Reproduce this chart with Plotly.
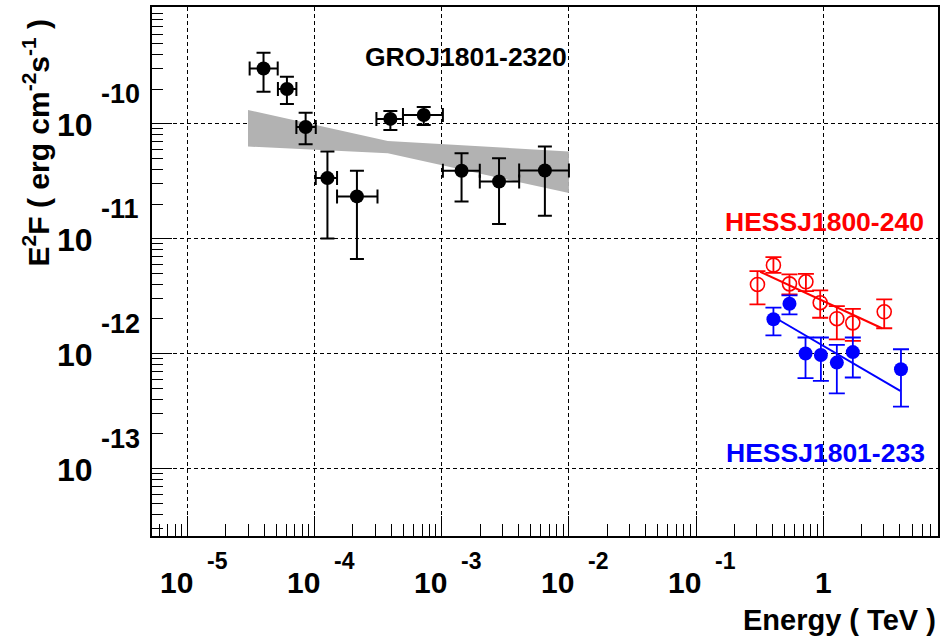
import numpy as np
import plotly.graph_objects as go

# ---- GRO J1801-2320 (EGRET) spectral points, energies in TeV, E^2F in erg cm^-2 s^-1
gro_e = [3.96e-5, 6.05e-5, 8.49e-5, 1.26e-4, 2.15e-4, 3.94e-4, 7.21e-4, 1.43e-3, 2.82e-3, 6.47e-3]
gro_e_lo = [3.08e-5, 5.14e-5, 7.18e-5, 1.02e-4, 1.50e-4, 3.06e-4, 4.95e-4, 1.02e-3, 1.99e-3, 4.06e-3]
gro_e_hi = [5.12e-5, 7.18e-5, 1.02e-4, 1.50e-4, 3.12e-4, 4.95e-4, 1.02e-3, 1.99e-3, 4.06e-3, 1.0e-2]
gro_f = [3.02e-10, 2.0e-10, 9.36e-11, 3.36e-11, 2.33e-11, 1.10e-10, 1.19e-10, 3.89e-11, 3.14e-11, 3.91e-11]
gro_f_hi = [4.15e-10, 2.56e-10, 1.245e-10, 5.72e-11, 3.89e-11, 1.29e-10, 1.40e-10, 5.52e-11, 5.0e-11, 6.32e-11]
gro_f_lo = [1.90e-10, 1.48e-10, 6.61e-11, 1.0e-11, 6.65e-12, 8.82e-11, 9.75e-11, 2.10e-11, 1.34e-11, 1.58e-11]

# butterfly of the GRO power-law fit
band_e = [2.99e-5, 3.76e-4, 1.0e-2]
band_hi = [1.315e-10, 7.08e-11, 5.72e-11]
band_lo = [6.32e-11, 5.52e-11, 2.49e-11]

# ---- HESS J1800-240 (open red)
red_e = [0.304, 0.406, 0.543, 0.731, 0.947, 1.28, 1.71, 3.02]
red_f = [3.99e-12, 5.88e-12, 4.04e-12, 4.21e-12, 2.77e-12, 2.01e-12, 1.85e-12, 2.31e-12]
red_hi = [5.21e-12, 6.89e-12, 4.88e-12, 4.94e-12, 3.54e-12, 2.59e-12, 2.45e-12, 2.96e-12]
red_lo = [2.68e-12, 5.04e-12, 3.27e-12, 3.49e-12, 2.05e-12, 1.33e-12, 1.29e-12, 1.66e-12]
red_fit_e = [0.319, 2.90]
red_fit_f = [5.14e-12, 1.66e-12]

# ---- HESS J1801-233 (filled blue)
blue_e = [0.406, 0.543, 0.726, 0.959, 1.28, 1.71, 4.09]
blue_f = [1.99e-12, 2.71e-12, 1.00e-12, 9.73e-13, 8.35e-13, 1.03e-12, 7.31e-13]
blue_hi = [2.51e-12, 3.21e-12, 1.38e-12, 1.38e-12, 1.19e-12, 1.38e-12, 1.09e-12]
blue_lo = [1.44e-12, 2.19e-12, 6.11e-13, 5.79e-13, 4.50e-13, 6.19e-13, 3.45e-13]
blue_fit_e = [0.419, 4.04]
blue_fit_f = [2.05e-12, 4.74e-13]

# axis decorations
x_decades = [-5, -4, -3, -2, -1, 0]
x_labels = ["-5", "-4", "-3", "-2", "-1", ""]
y_decades = [-10, -11, -12, -13]
y_labels = ["-10", "-11", "-12", "-13"]

FONT = "Liberation Sans, Arial, sans-serif"


def err(center, hi, lo):
    c = np.array(center)
    return dict(type="data", symmetric=False,
                array=(np.array(hi) - c).tolist(),
                arrayminus=(c - np.array(lo)).tolist())


def label(text, x, y, size, color="black", bold=True, xref="paper", yref="paper",
          xanchor="center", yanchor="middle", **kw):
    font = dict(family=FONT, size=size, color=color)
    if bold:
        font["weight"] = 700
    return dict(text=text, x=x, y=y, xref=xref, yref=yref, showarrow=False,
                xanchor=xanchor, yanchor=yanchor, font=font, **kw)


fig = go.Figure()

# butterfly band
fig.add_trace(go.Scatter(
    x=band_e + band_e[::-1], y=band_hi + band_lo[::-1],
    mode="lines", fill="toself", fillcolor="#b2b2b2",
    line=dict(width=0, color="#b2b2b2"), hoverinfo="skip", showlegend=False))

# GRO points
fig.add_trace(go.Scatter(
    x=gro_e, y=gro_f, mode="markers",
    marker=dict(color="black", size=14),
    error_x=dict(err(gro_e, gro_e_hi, gro_e_lo), color="black", thickness=2, width=7),
    error_y=dict(err(gro_f, gro_f_hi, gro_f_lo), color="black", thickness=2, width=7),
    showlegend=False))

# HESS J1800-240
fig.add_trace(go.Scatter(
    x=red_e, y=red_f, mode="markers",
    marker=dict(symbol="circle-open", color="red", size=14, line=dict(width=1.6, color="red")),
    error_y=dict(err(red_f, red_hi, red_lo), color="red", thickness=1.8, width=8),
    showlegend=False))
fig.add_trace(go.Scatter(x=red_fit_e, y=red_fit_f, mode="lines",
                         line=dict(color="red", width=2), showlegend=False))

# HESS J1801-233
fig.add_trace(go.Scatter(
    x=blue_e, y=blue_f, mode="markers",
    marker=dict(color="blue", size=14),
    error_y=dict(err(blue_f, blue_hi, blue_lo), color="blue", thickness=1.8, width=8),
    showlegend=False))
fig.add_trace(go.Scatter(x=blue_fit_e, y=blue_fit_f, mode="lines",
                         line=dict(color="blue", width=2), showlegend=False))

minor_x = [m * 10.0 ** k for k in range(-6, 1) for m in range(2, 10)]
minor_y = [m * 10.0 ** k for k in range(-14, -8) for m in range(2, 10)]

fig.update_xaxes(
    type="log", range=[-5.2795, 0.903],
    tickvals=[10.0 ** k for k in x_decades], showticklabels=False,
    ticks="inside", ticklen=20, tickwidth=1, tickcolor="black",
    minor=dict(tickmode="array", tickvals=minor_x, ticks="inside", ticklen=12,
               tickwidth=1, tickcolor="black", showgrid=False),
    showgrid=True, gridcolor="black", gridwidth=1, griddash="4px,3px",
    showline=True, linecolor="black", linewidth=2, mirror=True, zeroline=False)
fig.update_yaxes(
    type="log", range=[-13.587, -8.985],
    tickvals=[10.0 ** k for k in y_decades], showticklabels=False,
    ticks="inside", ticklen=20, tickwidth=1, tickcolor="black",
    minor=dict(tickmode="array", tickvals=minor_y, ticks="inside", ticklen=11,
               tickwidth=1, tickcolor="black", showgrid=False),
    showgrid=True, gridcolor="black", gridwidth=1, griddash="4px,3px",
    showline=True, linecolor="black", linewidth=2, mirror=True, zeroline=False)

ann = []
# x tick labels: mantissa and raised exponent
for k, lab in zip(x_decades, x_labels):
    if lab:
        ann.append(label("10", k, -0.088, 30, xref="x", xshift=-11.5))
        ann.append(label(lab, k, -0.0467, 23, xref="x", xshift=29.5))
    else:
        ann.append(label("1", k, -0.088, 30, xref="x"))
# y tick labels
for k, lab in zip(y_decades, y_labels):
    ann.append(label("10", -0.098, k, 32, yref="y", yshift=-1))
    ann.append(label(lab, -0.0407, k, 27, yref="y", yshift=30))

# axis titles
ann.append(label("E<sup>2</sup>F ( erg cm<sup>-2</sup>s<sup>-1</sup> )", -0.147, 0.743, 30,
                 textangle=-90))
ann.append(label("Energy ( TeV )", 1.0, -0.159, 29, xanchor="right"))

# source labels
ann.append(label("GROJ1801-2320", 0.3995, 0.905, 26.5))
ann.append(label("HESSJ1800-240", 0.856, 0.5945, 26.5, color="red"))
ann.append(label("HESSJ1801-233", 0.8575, 0.1576, 26.5, color="blue"))

fig.update_layout(
    width=952, height=638,
    margin=dict(l=152, r=14, t=5, b=102),
    paper_bgcolor="white", plot_bgcolor="white",
    annotations=ann, showlegend=False)

fig.write_html("out.html")
